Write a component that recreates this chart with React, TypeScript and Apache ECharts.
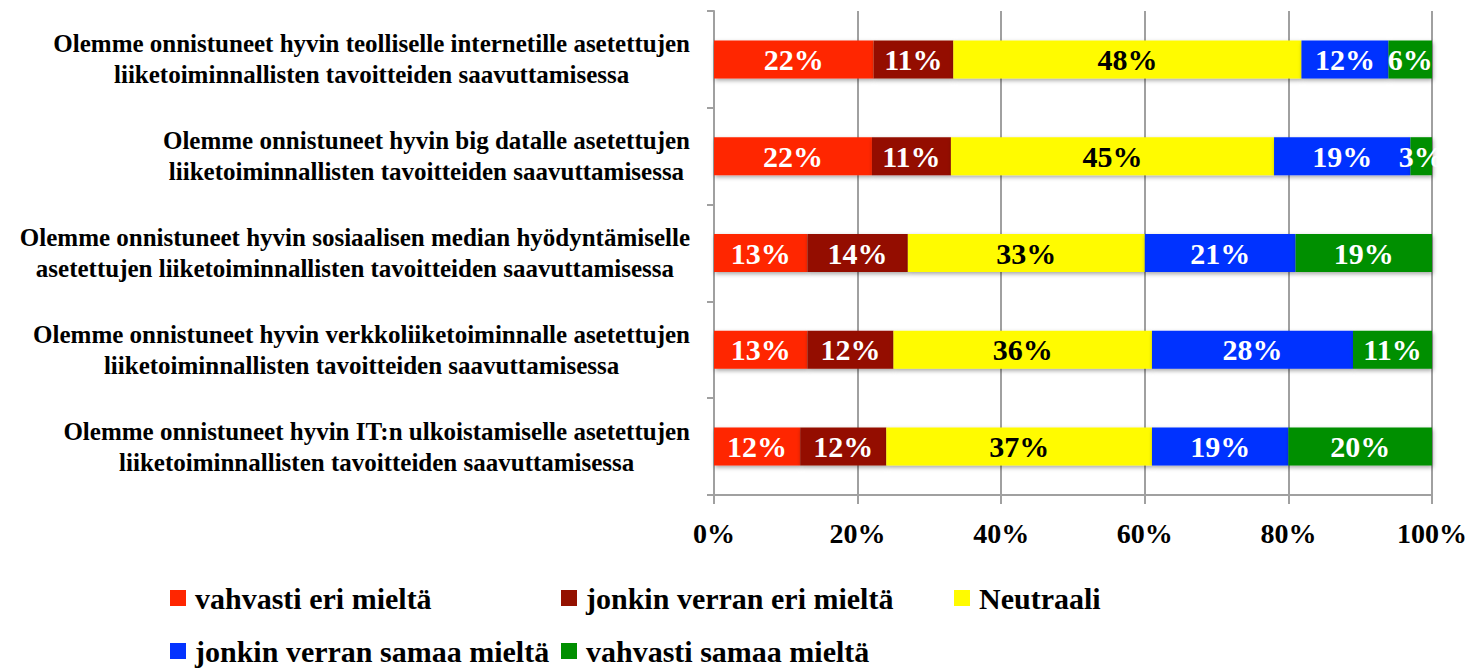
import React, { useEffect, useRef } from "react";
import * as echarts from "echarts";

const categories: string[] = [
  "Olemme onnistuneet hyvin teolliselle internetille asetettujen\nliiketoiminnallisten tavoitteiden saavuttamisessa",
  "Olemme onnistuneet hyvin big datalle asetettujen\nliiketoiminnallisten tavoitteiden saavuttamisessa",
  "Olemme onnistuneet hyvin sosiaalisen median hyödyntämiselle\nasetettujen liiketoiminnallisten tavoitteiden saavuttamisessa",
  "Olemme onnistuneet hyvin verkkoliiketoiminnalle asetettujen\nliiketoiminnallisten tavoitteiden saavuttamisessa",
  "Olemme onnistuneet hyvin IT:n ulkoistamiselle asetettujen\nliiketoiminnallisten tavoitteiden saavuttamisessa",
];

const seriesNames: string[] = [
  "vahvasti eri mieltä",
  "jonkin verran eri mieltä",
  "Neutraali",
  "jonkin verran samaa mieltä",
  "vahvasti samaa mieltä",
];

const vahvastiEri: number[] = [22, 22, 13, 13, 12];
const jonkinEri: number[] = [11, 11, 14, 12, 12];
const neutraali: number[] = [48, 45, 33, 36, 37];
const jonkinSamaa: number[] = [12, 19, 21, 28, 19];
const vahvastiSamaa: number[] = [6, 3, 19, 11, 20];

const xTickValues: number[] = [0, 20, 40, 60, 80, 100];

const colors: string[] = ["#FF2600", "#941100", "#FFFB00", "#0433FF", "#008F00"];
const labelColors: string[] = ["#ffffff", "#ffffff", "#000000", "#ffffff", "#ffffff"];

const FONT = '"Liberation Serif", "Times New Roman", serif';

export default function App() {
  const ref = useRef<HTMLDivElement>(null);

  useEffect(() => {
    if (!ref.current) return;
    const chart = echarts.init(ref.current, undefined, { renderer: "svg" });
    const allSeries = [vahvastiEri, jonkinEri, neutraali, jonkinSamaa, vahvastiSamaa];
    const totals = categories.map((_, i) =>
      allSeries.reduce((s, arr) => s + arr[i], 0)
    );

    const series = allSeries.map((arr, si) => ({
      name: seriesNames[si],
      type: "bar",
      stack: "total",
      barWidth: 38,
      itemStyle: {
        color: colors[si],
        shadowColor: "rgba(0,0,0,0.35)",
        shadowBlur: 4,
        shadowOffsetX: 1,
        shadowOffsetY: 2,
      },
      label: {
        show: true,
        position: "inside",
        color: labelColors[si],
        fontFamily: FONT,
        fontWeight: "bold",
        fontSize: 30,
        formatter: (p: any) => `${p.data.raw}%`,
      },
      data: arr.map((v, i) => ({ value: (v / totals[i]) * 100, raw: v })),
    }));

    const legendText = {
      fontFamily: FONT,
      fontWeight: "bold",
      fontSize: 30,
      color: "#000",
      padding: [0, 0, 0, 4],
    };
    const legendBase = {
      orient: "vertical",
      top: 583,
      height: 120,
      padding: 0,
      itemWidth: 16,
      itemHeight: 16,
      itemGap: 23,
      icon: "rect",
      selectedMode: false,
      textStyle: legendText,
    };

    chart.setOption({
      animation: false,
      backgroundColor: "#ffffff",
      grid: { left: 714, right: 40, top: 11, bottom: 173, containLabel: false },
      xAxis: {
        type: "value",
        min: xTickValues[0],
        max: xTickValues[xTickValues.length - 1],
        interval: xTickValues[1] - xTickValues[0],
        axisLine: { show: true, lineStyle: { color: "#a0a0a0", width: 2 } },
        axisTick: { show: true, length: 9, lineStyle: { color: "#a0a0a0", width: 2 } },
        splitLine: { show: true, lineStyle: { color: "#a0a0a0", width: 2 } },
        axisLabel: {
          margin: 24,
          fontFamily: FONT,
          fontWeight: "bold",
          fontSize: 28,
          color: "#000",
          formatter: "{value}%",
        },
      },
      yAxis: {
        type: "category",
        inverse: true,
        data: categories,
        axisLine: { show: true, lineStyle: { color: "#a0a0a0", width: 2 } },
        axisTick: { show: true, length: 7, lineStyle: { color: "#a0a0a0", width: 2 } },
        axisLabel: {
          margin: 24,
          formatter: (v: string) =>
            v
              .split("\n")
              .map((l) => `{c|${l}}`)
              .join("\n"),
          rich: {
            c: {
              align: "center",
              fontFamily: FONT,
              fontWeight: "bold",
              fontSize: 25,
              lineHeight: 31,
              color: "#000",
            },
          },
        },
      },
      legend: [
        { ...legendBase, left: 170, data: [seriesNames[0], seriesNames[3]] },
        { ...legendBase, left: 561, data: [seriesNames[1], seriesNames[4]] },
        { ...legendBase, left: 954, data: [seriesNames[2]] },
      ],
      series,
    });

    return () => {
      chart.dispose();
    };
  }, []);

  return (
    <div
      ref={ref}
      style={{ position: "fixed", left: 0, top: 0, width: 1472, height: 668 }}
    />
  );
}
